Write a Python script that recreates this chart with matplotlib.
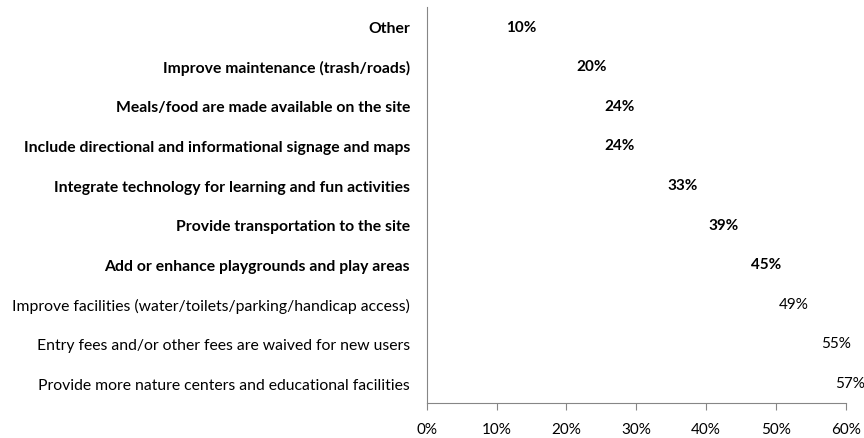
import matplotlib.pyplot as plt
import numpy as np
from matplotlib.ticker import PercentFormatter

# data, top to bottom as shown
categories = [
    "Other",
    "Improve maintenance (trash/roads)",
    "Meals/food are made available on the site",
    "Include directional and informational signage and maps",
    "Integrate technology for learning and fun activities",
    "Provide transportation to the site",
    "Add or enhance playgrounds and play areas",
    "Improve facilities (water/toilets/parking/handicap access)",
    "Entry fees and/or other fees are waived for new users",
    "Provide more nature centers and educational facilities",
]
values = [10, 20, 24, 24, 33, 39, 45, 49, 55, 57]
bold_flags = [True, True, True, True, True, True, True, False, False, False]

plt.rcParams['font.family'] = ['Lato', 'DejaVu Sans']

fig = plt.figure(figsize=(8.64, 4.39), dpi=100)
ax = fig.add_axes([0.494, 0.080, 0.485, 0.902])

y = np.arange(len(categories))
# bars are white (invisible) in the original, only labels show
bars = ax.barh(y, values, height=0.6, color="white")

for yi, v, b in zip(y, values, bold_flags):
    ax.annotate(f"{v}%", xy=(v, yi), xytext=(7, 0), textcoords="offset points",
                ha="left", va="center", fontsize=11,
                fontweight="bold" if b else "normal", color="black")

ax.set_yticks(y)
ax.set_yticklabels(categories, fontsize=11.3)
for lab, b in zip(ax.get_yticklabels(), bold_flags):
    lab.set_fontweight("bold" if b else "normal")

ax.set_ylim(len(categories) - 0.5, -0.5)
ax.set_xlim(0, 60)
ax.set_xticks(np.arange(0, 61, 10))
ax.xaxis.set_major_formatter(PercentFormatter(decimals=0))
ax.tick_params(axis="x", labelsize=11, length=5, color="#868686", pad=9)
ax.tick_params(axis="y", length=0, pad=12)

for s in ["top", "right"]:
    ax.spines[s].set_visible(False)
for s in ["left", "bottom"]:
    ax.spines[s].set_color("#868686")

fig.savefig("out.png", dpi=100)
